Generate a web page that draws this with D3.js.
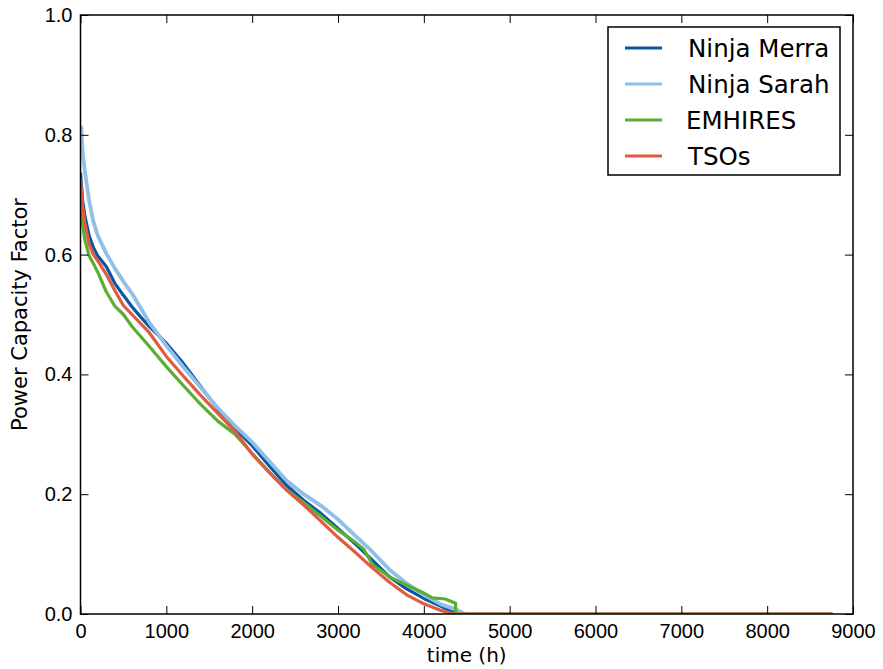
<!DOCTYPE html>
<html>
<head>
<meta charset="utf-8">
<script src="https://cdn.jsdelivr.net/npm/d3@7"></script>
<style>
  body { margin: 0; background: #fff; }
  svg { display: block; font-family: "DejaVu Sans", sans-serif; }
  .axis text { font-size: 20px; fill: #000; }
  .axis line { stroke: #000; stroke-width: 1; }
</style>
</head>
<body>
<svg id="chart"></svg>
<script>
// duration curves: hours sorted by capacity factor
const merraHours   = [0, 25, 50, 100, 150, 200, 300, 400, 500, 600, 700, 800, 1000, 1200, 1400, 1600, 1800, 2000, 2200, 2400, 2600, 2800, 3000, 3200, 3400, 3600, 3800, 4000, 4200, 4300, 4400, 8760];
const merraValues  = [0.737, 0.69, 0.665, 0.632, 0.612, 0.598, 0.58, 0.552, 0.532, 0.513, 0.496, 0.48, 0.452, 0.418, 0.38, 0.342, 0.31, 0.281, 0.247, 0.215, 0.19, 0.168, 0.143, 0.117, 0.09, 0.062, 0.042, 0.026, 0.013, 0.006, 0, 0];

const sarahHours   = [0, 10, 25, 50, 100, 150, 200, 300, 400, 500, 600, 800, 1000, 1200, 1400, 1600, 1800, 2000, 2200, 2400, 2600, 2800, 3000, 3200, 3400, 3600, 3800, 4000, 4200, 4400, 4480, 8760];
const sarahValues  = [0.815, 0.81, 0.77, 0.74, 0.69, 0.655, 0.632, 0.602, 0.577, 0.555, 0.535, 0.487, 0.448, 0.412, 0.378, 0.344, 0.314, 0.287, 0.255, 0.223, 0.2, 0.181, 0.158, 0.131, 0.104, 0.074, 0.051, 0.032, 0.016, 0.006, 0, 0];

const emhiresHours  = [0, 25, 50, 100, 150, 200, 300, 400, 500, 600, 800, 1000, 1200, 1400, 1600, 1800, 2000, 2200, 2400, 2600, 2800, 3000, 3200, 3300, 3400, 3600, 3800, 4000, 4100, 4250, 4370, 4370, 8760];
const emhiresValues = [0.676, 0.648, 0.625, 0.598, 0.585, 0.571, 0.538, 0.514, 0.5, 0.48, 0.447, 0.413, 0.381, 0.35, 0.322, 0.3, 0.268, 0.237, 0.208, 0.186, 0.163, 0.14, 0.12, 0.108, 0.083, 0.062, 0.048, 0.035, 0.027, 0.025, 0.018, 0, 0];

const tsoHours     = [0, 25, 50, 100, 150, 200, 300, 400, 500, 600, 800, 1000, 1200, 1400, 1600, 1800, 2000, 2200, 2400, 2600, 2800, 3000, 3200, 3400, 3600, 3800, 4000, 4200, 4350, 8760];
const tsoValues    = [0.727, 0.68, 0.652, 0.618, 0.6, 0.59, 0.567, 0.54, 0.515, 0.5, 0.47, 0.43, 0.397, 0.365, 0.335, 0.305, 0.267, 0.236, 0.207, 0.182, 0.155, 0.128, 0.103, 0.077, 0.053, 0.032, 0.017, 0.006, 0, 0];

const seriesNames  = ['Ninja Merra', 'Ninja Sarah', 'EMHIRES', 'TSOs'];
const seriesColors = ['#0a56a3', '#90bfe8', '#5aae32', '#e15b41'];
const xTicks = [0, 1000, 2000, 3000, 4000, 5000, 6000, 7000, 8000, 9000];
const yTicks = [0, 0.2, 0.4, 0.6, 0.8, 1.0];

const series = [
  {name: seriesNames[0], color: seriesColors[0], hours: merraHours, values: merraValues},
  {name: seriesNames[1], color: seriesColors[1], hours: sarahHours, values: sarahValues},
  {name: seriesNames[2], color: seriesColors[2], hours: emhiresHours, values: emhiresValues},
  {name: seriesNames[3], color: seriesColors[3], hours: tsoHours, values: tsoValues}
];

const width = 883, height = 669;
const margin = {top: 15, right: 30, bottom: 55, left: 80.5};
const innerW = width - margin.left - margin.right;
const innerH = height - margin.top - margin.bottom;

const svg = d3.select('#chart')
    .attr('width', width)
    .attr('height', height);

const chart = svg.append('g')
    .attr('transform', `translate(${margin.left},${margin.top})`);

const x = d3.scaleLinear().domain([0, 9000]).range([0, innerW]);
const y = d3.scaleLinear().domain([0, 1]).range([innerH, 0]);

// clip lines to the plot frame
svg.append('defs').append('clipPath').attr('id', 'clip')
  .append('rect').attr('width', innerW).attr('height', innerH);

const line = d3.line()
    .x(d => x(d[0]))
    .y(d => y(d[1]));

chart.append('g').attr('clip-path', 'url(#clip)')
  .selectAll('path')
  .data(series)
  .join('path')
    .attr('d', s => line(s.hours.map((h, i) => [h, s.values[i]])))
    .attr('fill', 'none')
    .attr('stroke', s => s.color)
    .attr('stroke-width', s => s.name === 'Ninja Sarah' ? 3.8 : 3.2)
    .attr('stroke-linejoin', 'round');

// axes, ticks pointing inward on all four sides
chart.append('g')
    .attr('class', 'axis')
    .attr('transform', `translate(0,${innerH})`)
    .call(d3.axisBottom(x).tickValues(xTicks).tickFormat(d3.format('d')).tickSize(-8).tickPadding(10))
    .call(g => g.select('.domain').remove());

chart.append('g')
    .attr('class', 'axis')
    .call(d3.axisLeft(y).tickValues(yTicks).tickFormat(d3.format('.1f')).tickSize(-8).tickPadding(8))
    .call(g => g.select('.domain').remove());

chart.append('g')
    .attr('class', 'axis')
    .call(d3.axisTop(x).tickValues(xTicks).tickFormat('').tickSize(-8))
    .call(g => g.select('.domain').remove());

chart.append('g')
    .attr('class', 'axis')
    .attr('transform', `translate(${innerW},0)`)
    .call(d3.axisRight(y).tickValues(yTicks).tickFormat('').tickSize(-8))
    .call(g => g.select('.domain').remove());

chart.append('rect')
    .attr('width', innerW)
    .attr('height', innerH)
    .attr('fill', 'none')
    .attr('stroke', '#000')
    .attr('stroke-width', 1.5);

// axis titles
svg.append('text')
    .attr('x', margin.left + innerW / 2)
    .attr('y', 662)
    .attr('text-anchor', 'middle')
    .style('font-size', '20px')
    .text('time (h)');

svg.append('text')
    .attr('transform', `translate(27,${margin.top + innerH / 2}) rotate(-90)`)
    .attr('text-anchor', 'middle')
    .style('font-size', '21px')
    .text('Power Capacity Factor');

// legend
const legend = svg.append('g').attr('transform', 'translate(608,27)');
legend.append('rect')
    .attr('width', 232)
    .attr('height', 148)
    .attr('fill', '#fff')
    .attr('stroke', '#000')
    .attr('stroke-width', 1.5);

const items = legend.selectAll('.item')
  .data(series)
  .join('g')
    .attr('class', 'item')
    .attr('transform', (d, i) => `translate(0,${21 + i * 36})`);

items.append('line')
    .attr('x1', 17).attr('x2', 54)
    .attr('stroke', d => d.color)
    .attr('stroke-width', 3);

items.append('text')
    .attr('x', d => d.name === 'EMHIRES' ? 78 : 80)
    .attr('dy', '0.36em')
    .style('font-size', '24.5px')
    .text(d => d.name);
</script>
</body>
</html>
